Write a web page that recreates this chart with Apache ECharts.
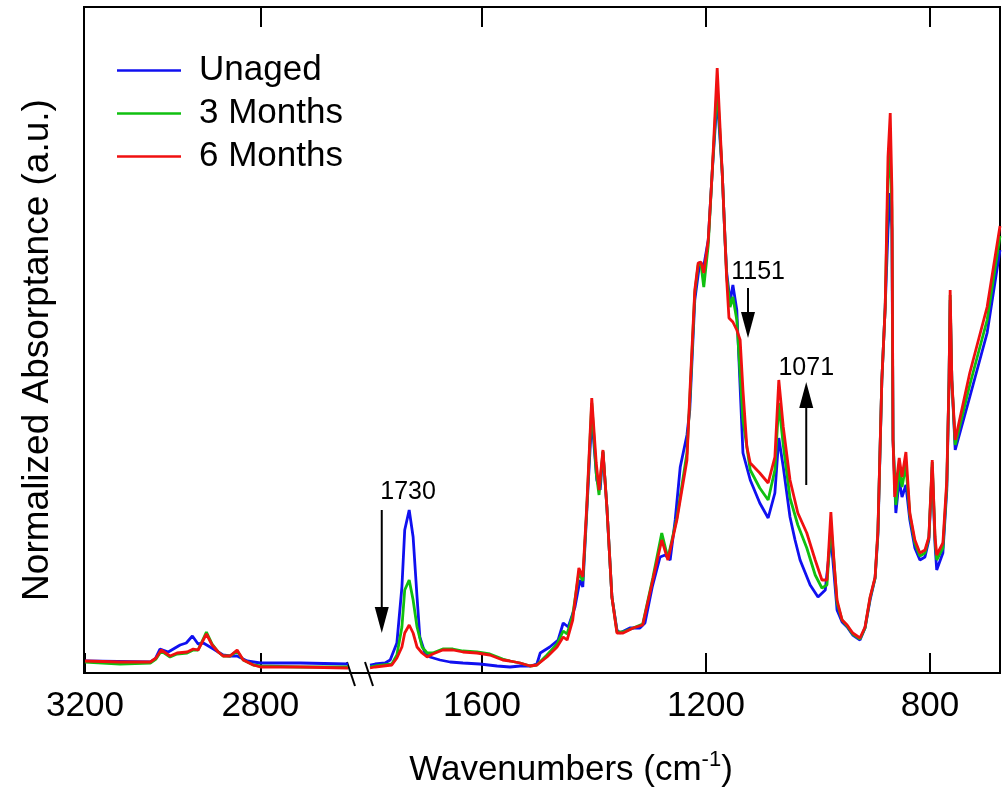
<!DOCTYPE html>
<html>
<head>
<meta charset="utf-8">
<script src="https://cdn.jsdelivr.net/npm/echarts@6/dist/echarts.min.js"></script>
<style>
  html, body { margin: 0; padding: 0; background: #fff; }
  #chart { width: 1003px; height: 790px; }
</style>
</head>
<body>
<div id="chart"></div>
<script>
// series names
const names = ['Unaged', '3 Months', '6 Months']
const colors = ['#1010f0', '#10c010', '#f01010']

// tick labels
const ticksLeft = [3200, 2800]
const ticksRight = [1600, 1200, 800]

// C-H stretch region (left of the break): [wavenumber, absorptance]
const unagedLeft = [[3200,12],[3051,11],[3040,14],[3029,24],[3010,21],[2983,28],[2969,30],[2955,37],[2942,29],[2930,30],[2907,24],[2885,18],[2869,17],[2853,17],[2830,12],[2800,10],[2709,10],[2600,9]]
const m3Left = [[3200,11],[3120,9],[3051,10],[3038,14],[3026,22],[3006,16],[2990,19],[2967,20],[2953,23],[2942,23],[2923,41],[2910,29],[2896,21],[2885,17],[2869,17],[2853,22],[2839,13],[2816,8],[2800,7],[2709,6],[2600,6]]
const m6Left = [[3200,12],[3120,11],[3051,11],[3038,15],[3026,23],[3006,17],[2990,20],[2967,21],[2953,24],[2942,23],[2923,39],[2910,28],[2896,21],[2885,17],[2869,17],[2853,23],[2839,13],[2816,8],[2800,6],[2709,6],[2600,5]]

// fingerprint region (right of the break)
const unagedRight = [[1800,8],[1791,9],[1773,10],[1764,13],[1752,30],[1743,86],[1738,143],[1730,163],[1723,136],[1716,76],[1711,36],[1702,20],[1693,16],[1675,13],[1657,11],[1634,10],[1604,9],[1573,7],[1550,6],[1532,7],[1514,7],[1502,9],[1496,20],[1479,26],[1464,33],[1455,50],[1446,46],[1434,66],[1425,93],[1420,86],[1413,160],[1404,256],[1395,193],[1389,183],[1384,221],[1377,166],[1368,76],[1359,43],[1354,40],[1336,45],[1318,45],[1309,50],[1296,86],[1282,116],[1273,118],[1264,113],[1255,153],[1246,206],[1234,238],[1229,263],[1220,373],[1211,411],[1204,407],[1196,433],[1189,500],[1180,576],[1171,500],[1166,433],[1163,400],[1157,371],[1152,388],[1145,363],[1134,220],[1121,193],[1104,170],[1089,155],[1077,180],[1070,235],[1062,206],[1050,156],[1041,133],[1032,113],[1014,88],[1000,76],[987,83],[977,136],[972,103],[966,63],[957,51],[948,46],[938,38],[925,33],[916,45],[907,73],[898,95],[893,138],[886,293],[880,366],[875,443],[871,480],[868,443],[866,233],[861,160],[855,193],[850,176],[843,188],[836,153],[827,125],[818,113],[809,116],[802,133],[796,206],[791,128],[788,103],[777,120],[770,183],[766,293],[764,373],[761,293],[755,223],[729,276],[698,340],[675,423]]
const m3Right = [[1800,6],[1791,7],[1761,9],[1752,18],[1743,46],[1738,83],[1730,93],[1723,73],[1716,46],[1707,26],[1698,20],[1688,20],[1670,24],[1652,24],[1634,22],[1609,21],[1586,19],[1563,14],[1550,12],[1532,10],[1514,7],[1502,8],[1484,18],[1466,29],[1455,42],[1448,39],[1438,58],[1427,100],[1420,92],[1413,163],[1404,270],[1396,200],[1391,178],[1384,222],[1377,166],[1368,76],[1359,41],[1348,41],[1330,45],[1313,49],[1295,95],[1279,140],[1268,115],[1252,155],[1234,220],[1229,272],[1220,380],[1214,408],[1209,409],[1204,386],[1196,428],[1189,500],[1180,588],[1171,500],[1166,433],[1163,396],[1157,366],[1152,376],[1145,353],[1134,253],[1121,203],[1104,185],[1089,173],[1077,203],[1070,270],[1062,228],[1050,175],[1036,148],[1020,125],[1005,98],[993,85],[984,88],[977,148],[971,108],[966,70],[957,53],[948,47],[938,39],[925,34],[916,45],[907,75],[898,95],[893,141],[886,293],[880,366],[875,493],[871,523],[868,463],[866,233],[861,168],[855,205],[850,186],[843,208],[836,158],[827,130],[818,117],[809,120],[802,135],[796,211],[791,133],[788,113],[777,125],[770,188],[766,293],[764,378],[761,293],[755,228],[729,288],[698,353],[675,437]]
const m6Right = [[1800,5],[1791,6],[1761,8],[1752,15],[1743,26],[1738,40],[1730,48],[1723,40],[1716,26],[1707,20],[1698,16],[1688,19],[1670,23],[1652,23],[1634,21],[1609,20],[1586,18],[1563,13],[1550,12],[1532,10],[1514,7],[1502,8],[1484,16],[1466,26],[1455,36],[1448,33],[1438,53],[1427,105],[1420,96],[1413,166],[1404,275],[1396,210],[1391,183],[1384,223],[1377,166],[1368,76],[1359,40],[1348,40],[1330,45],[1313,48],[1295,93],[1279,133],[1268,113],[1252,153],[1234,213],[1229,278],[1220,383],[1214,410],[1209,411],[1204,400],[1196,433],[1189,500],[1180,605],[1171,500],[1166,433],[1163,393],[1159,355],[1152,351],[1145,343],[1139,333],[1134,283],[1127,226],[1121,210],[1104,200],[1089,190],[1077,216],[1070,293],[1062,246],[1050,193],[1036,160],[1020,140],[1005,113],[993,93],[984,93],[977,161],[971,108],[966,73],[957,53],[948,48],[938,40],[925,35],[916,46],[907,76],[898,96],[893,143],[886,293],[880,366],[875,516],[871,560],[868,483],[866,233],[863,176],[855,215],[850,196],[843,221],[836,160],[827,133],[818,120],[809,123],[802,136],[796,213],[791,136],[788,118],[777,130],[770,193],[766,293],[764,383],[761,293],[755,233],[729,300],[698,366],[675,447]]

// annotations: [wavenumber, tail, head]
const arrows = [[1779, 163, 53], [1125, 385, 348], [1021, 188, 278]]
const notes = [['1730', 1732, 181], ['1151', 1107, 401], ['1071', 1021, 305]]

const font = 'Liberation Sans, Arial, sans-serif'
const chart = echarts.init(document.getElementById('chart'))

function bottomAxis(grid, min, max, ticks) {
  return {
    type: 'value', gridIndex: grid, min: min, max: max, inverse: true,
    position: 'bottom',
    axisLine: { show: false },
    splitLine: { show: false },
    axisTick: { inside: true, length: 20, customValues: ticks, lineStyle: { color: '#000', width: 2 } },
    axisLabel: {
      customValues: ticks, margin: 16, fontSize: 35, color: '#000', fontFamily: font,
      formatter: v => String(v)
    }
  }
}
function topAxis(grid, min, max, ticks) {
  return {
    type: 'value', gridIndex: grid, min: min, max: max, inverse: true,
    position: 'top',
    axisLine: { show: false },
    splitLine: { show: false },
    axisTick: { inside: true, length: 20, customValues: ticks, lineStyle: { color: '#000', width: 2 } },
    axisLabel: { show: false }
  }
}
function yAxis(grid) {
  return { type: 'value', gridIndex: grid, min: 0, max: 666, show: false, splitLine: { show: false } }
}
function line(i, data, xi, yi) {
  return {
    name: names[i], type: 'line', xAxisIndex: xi, yAxisIndex: yi,
    data: data, symbol: 'none', color: colors[i],
    lineStyle: { width: 2.8, color: colors[i] }
  }
}
// black arrow: shaft as a line, head as the end symbol
function arrow(a, k) {
  const down = a[2] < a[1]
  return {
    name: 'arrow' + k, type: 'line', xAxisIndex: 1, yAxisIndex: 1,
    silent: true, color: '#000', z: 5,
    lineStyle: { color: '#000', width: 2 },
    symbol: 'none', showSymbol: true,
    data: [
      [a[0], a[1]],
      { value: [a[0], a[2]], symbol: 'triangle', symbolSize: [14, 26], symbolRotate: down ? 180 : 0,
        itemStyle: { color: '#000', borderWidth: 0 } }
    ]
  }
}

const red = line(2, m6Right, 1, 1)
red.markPoint = {
  silent: true,
  symbol: 'circle', symbolSize: 1,
  itemStyle: { color: 'rgba(0,0,0,0)' },
  label: { show: true, position: 'inside', color: '#000', fontSize: 25, fontFamily: font },
  data: notes.map(n => ({ coord: [n[1], n[2]], label: { formatter: n[0] } }))
}

chart.setOption({
  animation: false,
  backgroundColor: '#fff',
  grid: [
    { left: 85, top: 7, width: 263, height: 666 },
    { left: 370, top: 7, width: 630, height: 666 },
    { left: 84, top: 7, width: 916, height: 666, show: true, borderColor: '#000', borderWidth: 2 }
  ],
  xAxis: [
    bottomAxis(0, 2600, 3200, ticksLeft),
    bottomAxis(1, 675, 1800, ticksRight),
    topAxis(0, 2600, 3200, [2800]),
    topAxis(1, 675, 1800, ticksRight)
  ],
  yAxis: [yAxis(0), yAxis(1)],
  legend: {
    left: 117, top: 53, orient: 'vertical', padding: 0,
    icon: 'rect', itemWidth: 64, itemHeight: 2.5, itemGap: 8,
    data: names,
    textStyle: { fontSize: 35, lineHeight: 34, color: '#000', fontFamily: font, padding: [0, 0, 0, 13] }
  },
  graphic: [
    { type: 'line', shape: { x1: 347, y1: 662, x2: 355, y2: 686 }, style: { stroke: '#000', lineWidth: 2 } },
    { type: 'line', shape: { x1: 365, y1: 662, x2: 373, y2: 686 }, style: { stroke: '#000', lineWidth: 2 } },
    {
      type: 'text', x: 571, y: 770,
      style: {
        text: 'Wavenumbers (cm{s|-1})', fill: '#000', font: '35px ' + font,
        align: 'center', verticalAlign: 'middle',
        rich: { s: { fontSize: 22, fontFamily: font, padding: [0, 0, 20, 0] } }
      }
    },
    {
      type: 'text', x: 38, y: 350, rotation: Math.PI / 2,
      style: {
        text: 'Normalized Absorptance (a.u.)', fill: '#000', font: '37px ' + font,
        align: 'center', verticalAlign: 'middle'
      }
    }
  ],
  series: [
    line(0, unagedLeft, 0, 0),
    line(1, m3Left, 0, 0),
    line(2, m6Left, 0, 0),
    line(0, unagedRight, 1, 1),
    line(1, m3Right, 1, 1),
    red
  ].concat(arrows.map(arrow))
})
</script>
</body>
</html>
